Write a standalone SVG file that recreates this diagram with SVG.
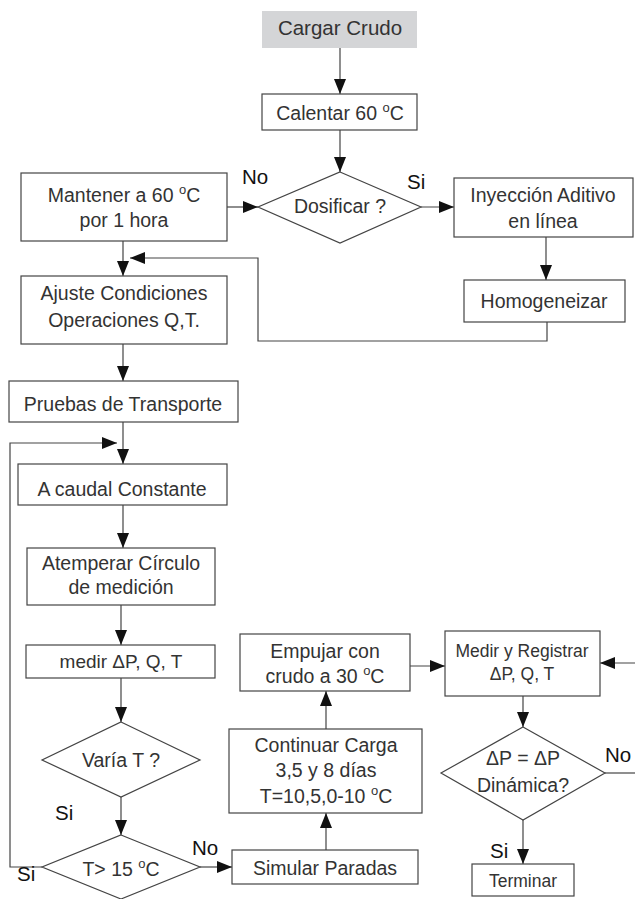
<svg xmlns="http://www.w3.org/2000/svg" width="635" height="899" viewBox="0 0 635 899">
<style>
.b{fill:#fff;stroke:#444;stroke-width:1.2}
.g{fill:#d4d5d7;stroke:none}
.t{font-family:"Liberation Sans",Arial,sans-serif;font-size:19.5px;fill:#333;text-anchor:middle}
.s{font-size:17.5px}
.l{font-family:"Liberation Sans",Arial,sans-serif;font-size:20.5px;fill:#111}
.c{fill:none;stroke:#444;stroke-width:1.2}
.a{marker-end:url(#ah)}
</style>
<defs>
<marker id="ah" markerUnits="userSpaceOnUse" markerWidth="16" markerHeight="13" refX="15" refY="6" orient="auto">
<path d="M0,0 L15,6 L0,12 z" fill="#111"/>
</marker>
</defs>
<g id="connectors">
<path class="c a" d="M340,48 V94"/>
<path class="c a" d="M340,130 V172"/>
<path class="c a" d="M227,207 H258"/>
<path class="c a" d="M421,207 H454"/>
<path class="c a" d="M546,237 V280"/>
<path class="c a" d="M547,322 V341 H258 V258 H130"/>
<path class="c a" d="M123,241 V276"/>
<path class="c a" d="M123,344 V381"/>
<path class="c a" d="M123,422 V464"/>
<path class="c a" d="M42,867 H10 V443 H117"/>
<path class="c a" d="M123,505 V548"/>
<path class="c a" d="M121,605 V645"/>
<path class="c a" d="M121,678 V722"/>
<path class="c a" d="M121,797 V835"/>
<path class="c a" d="M200,867 H232"/>
<path class="c a" d="M326,850 V813"/>
<path class="c a" d="M326,729 V691"/>
<path class="c a" d="M410,666 H445"/>
<path class="c a" d="M635,663 H600"/>
<path class="c a" d="M523,696 V727"/>
<path class="c" d="M605,773 H635"/>
<path class="c a" d="M523,820 V864"/>
</g>
<g id="cargar"><rect class="g" x="262" y="11" width="155" height="37"/><text class="t" x="340" y="35" style="font-size:20.5px">Cargar Crudo</text></g>
<g id="calentar"><rect class="b" x="262" y="94" width="155" height="36"/><text class="t" x="340" y="120">Calentar 60 <tspan font-size="13" dy="-8">o</tspan><tspan dy="8">C</tspan></text></g>
<g id="dosificar"><path class="b" d="M340,172 L421,207 L340,243 L258,207 z"/><text class="t" x="340" y="213">Dosificar ?</text></g>
<g id="mantener"><rect class="b" x="21" y="173" width="206" height="68"/><text class="t" x="124" y="202">Mantener a 60 <tspan font-size="13" dy="-8">o</tspan><tspan dy="8">C</tspan></text><text class="t" x="124" y="227">por 1 hora</text></g>
<g id="inyeccion"><rect class="b" x="454" y="178" width="179" height="59"/><text class="t" x="543" y="202">Inyección Aditivo</text><text class="t" x="543" y="228">en línea</text></g>
<g id="homogeneizar"><rect class="b" x="464" y="280" width="161" height="42"/><text class="t" x="544" y="308">Homogeneizar</text></g>
<g id="ajuste"><rect class="b" x="21" y="276" width="206" height="68"/><text class="t" x="124" y="300">Ajuste Condiciones</text><text class="t" x="124" y="327">Operaciones Q,T.</text></g>
<g id="pruebas"><rect class="b" x="9" y="381" width="229" height="41"/><text class="t" x="123" y="411">Pruebas de Transporte</text></g>
<g id="caudal"><rect class="b" x="18" y="464" width="209" height="41"/><text class="t" x="122" y="496">A caudal Constante</text></g>
<g id="atemperar"><rect class="b" x="27" y="548" width="188" height="57"/><text class="t" x="121" y="570">Atemperar Círculo</text><text class="t" x="121" y="594">de medición</text></g>
<g id="medir"><rect class="b" x="26" y="645" width="189" height="33"/><text class="t" x="121" y="668" style="font-size:19px">medir ΔP, Q, T</text></g>
<g id="varia"><path class="b" d="M121,722 L200,760 L121,797 L42,760 z"/><text class="t" x="121" y="767">Varía T ?</text></g>
<g id="t15"><path class="b" d="M121,835 L200,867 L121,899 L42,867 z"/><text class="t" x="121" y="876">T&gt; 15 <tspan font-size="13" dy="-8">o</tspan><tspan dy="8">C</tspan></text></g>
<g id="simular"><rect class="b" x="232" y="850" width="186" height="34"/><text class="t" x="325" y="875">Simular Paradas</text></g>
<g id="continuar"><rect class="b" x="229" y="729" width="193" height="84"/><text class="t" x="326" y="752">Continuar Carga</text><text class="t" x="326" y="777">3,5 y 8 días</text><text class="t" x="326" y="803">T=10,5,0-10 <tspan font-size="13" dy="-8">o</tspan><tspan dy="8">C</tspan></text></g>
<g id="empujar"><rect class="b" x="240" y="634" width="170" height="57"/><text class="t" x="325" y="658">Empujar con</text><text class="t" x="325" y="683">crudo a 30 <tspan font-size="13" dy="-8">o</tspan><tspan dy="8">C</tspan></text></g>
<g id="registrar"><rect class="b" x="445" y="631" width="155" height="65"/><text class="t s" x="522" y="657">Medir y Registrar</text><text class="t s" x="522" y="680">ΔP, Q, T</text></g>
<g id="dinamica"><path class="b" d="M523,727 L605,773 L523,820 L441,773 z"/><text class="t" x="523" y="765">ΔP = ΔP</text><text class="t" x="523" y="792">Dinámica?</text></g>
<g id="terminar"><rect class="b" x="472" y="864" width="102" height="32"/><text class="t s" x="523" y="887">Terminar</text></g>
<g id="labels">
<text class="l" x="242" y="184">No</text>
<text class="l" x="407" y="189">Si</text>
<text class="l" x="55" y="820">Si</text>
<text class="l" x="192" y="855">No</text>
<text class="l" x="17" y="881">Si</text>
<text class="l" x="605" y="762">No</text>
<text class="l" x="490" y="858">Si</text>
</g>
</svg>
